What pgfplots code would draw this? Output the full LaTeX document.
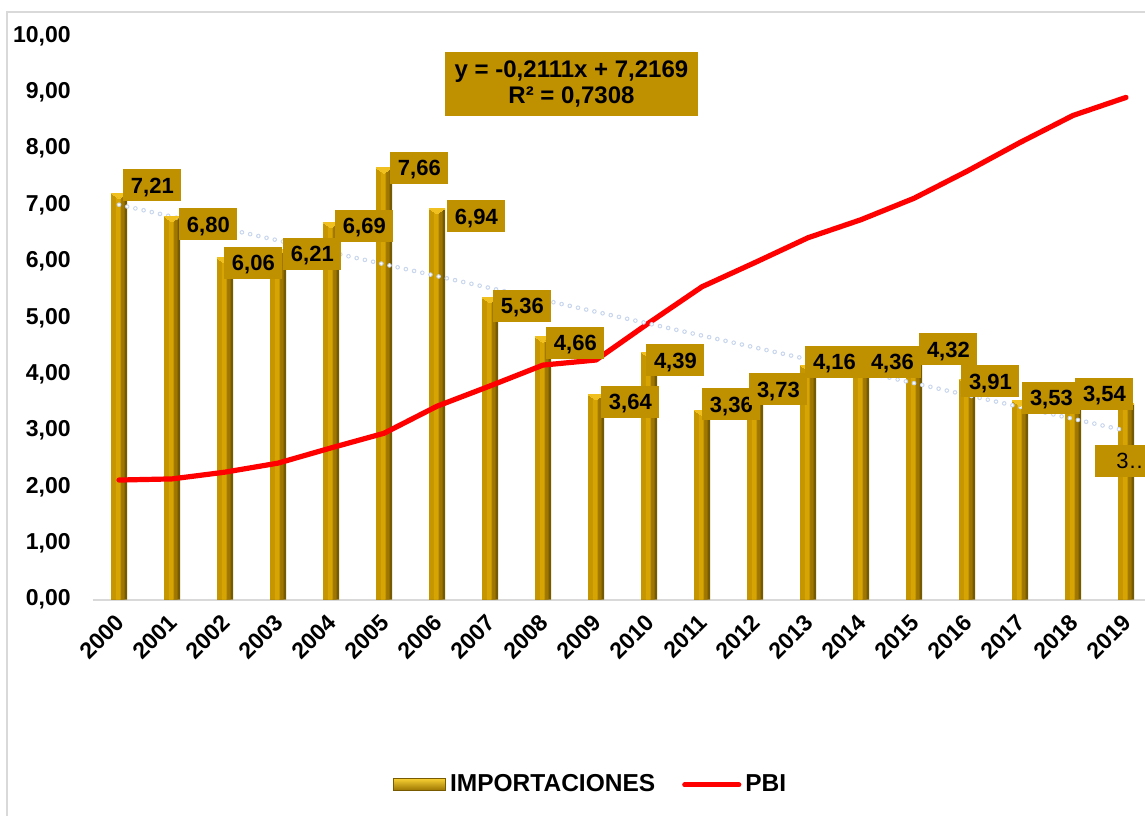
\documentclass[border=0pt]{standalone}
\usepackage{pgfplots}
\pgfplotsset{compat=1.18}
\usepackage{pgfplotstable}
\usepackage{fontspec}
\setmainfont{Liberation Sans}
\definecolor{labgold}{RGB}{191,144,0}
\definecolor{barA}{RGB}{118,90,0}
\definecolor{barB}{RGB}{158,118,0}
\definecolor{barC}{RGB}{198,150,0}
\definecolor{barD}{RGB}{214,165,4}
\definecolor{bartop}{RGB}{240,192,32}
\definecolor{frame}{RGB}{217,217,217}
\definecolor{trendb}{RGB}{200,214,237}
\newcommand{\px}[2]{({#1*0.5pt},{(815-#2)*0.5pt})}

\pgfplotstableread{
x y
0 7.21
1 6.80
2 6.06
3 6.21
4 6.69
5 7.66
6 6.94
7 5.36
8 4.66
9 3.64
10 4.39
11 3.36
12 3.73
13 4.16
14 4.36
15 4.32
16 3.91
17 3.53
18 3.54
19 3.47
}\imp

\pgfplotstableread{
x y
0 2.12
1 2.14
2 2.26
3 2.42
4 2.69
5 2.95
6 3.43
7 3.79
8 4.16
9 4.25
10 4.91
11 5.55
12 5.98
13 6.42
14 6.74
15 7.12
16 7.60
17 8.11
18 8.59
19 8.91
}\pbi

\begin{document}
\begin{tikzpicture}
\useasboundingbox (0,0) rectangle (572.5pt,407.5pt);
\fill[white] (0,0) rectangle (572.5pt,407.5pt);
\draw[frame, line width=0.6pt] \px{7}{12} rectangle \px{1170}{840};
\begin{axis}[
  at={(46.25pt,107.75pt)}, anchor=south west,
  scale only axis, width=530pt, height=281.75pt,
  xmin=-0.5, xmax=19.5, ymin=0, ymax=10,
  clip=false,
  axis x line*=bottom, axis y line*=left,
  x axis line style={draw=frame, line width=1pt},
  y axis line style={draw=none},
  major tick length=0pt, tick style={draw=none},
  xtick={0,...,19},
  xticklabels={2000,2001,2002,2003,2004,2005,2006,2007,2008,2009,2010,2011,2012,2013,2014,2015,2016,2017,2018,2019},
  xticklabel style={xshift=0.5pt, yshift=-9.5pt, font=\bfseries\fontsize{11.5}{13}\selectfont, rotate=45, anchor=east, inner sep=0pt},
  ytick={0,1,...,10},
  yticklabel style={font=\bfseries\fontsize{11.5}{13}\selectfont, inner sep=0pt, xshift=-10.75pt},
  /pgf/number format/.cd, fixed, fixed zerofill, precision=2, use comma, assume math mode=true,
  /pgfplots/.cd,
  legend style={at={(0.471,-0.329)}, anchor=center, draw=none, fill=none,
    font=\bfseries\fontsize{12.25}{14}\selectfont, legend columns=2,
    /tikz/every even column/.append style={column sep=11.5pt},
    nodes={inner xsep=2pt}},
]
% bars (layered for a cylinder-like shading)
\addplot[ybar, bar width=8pt, draw=none, fill=barA,
  legend image code/.code={\shade[top color={rgb,255:red,245;green,205;blue,50}, bottom color={rgb,255:red,150;green,112;blue,0}, draw={rgb,255:red,120;green,90;blue,0}, line width=0.4pt] (0pt,-3pt) rectangle (26pt,3pt);}]
  table[x=x, y=y] {\imp};
\addlegendentry{IMPORTACIONES}
\addplot[forget plot, ybar, bar width=6.8pt, bar shift=-0.6pt, draw=none, fill=barB] table[x=x, y=y] {\imp};
\addplot[forget plot, ybar, bar width=5pt, bar shift=-1.5pt, draw=none, fill=barC] table[x=x, y=y] {\imp};
\addplot[forget plot, ybar, bar width=2pt, bar shift=-0.6pt, draw=none, fill=barD] table[x=x, y=y] {\imp};
\addplot[forget plot, color=bartop, only marks, mark=triangle*, mark size=4.6pt, yshift=-0.9pt,
  mark options={rotate=180, yscale=0.4, fill=bartop, draw=bartop, line width=0pt}] table[x=x, y=y] {\imp};

\addplot[forget plot, draw=none, mark=none,
  nodes near coords, point meta=explicit symbolic,
  visualization depends on={value \thisrow{xs}\as\xs},
  visualization depends on={value \thisrow{ys}\as\ys},
  every node near coord/.append style={anchor=west, fill=labgold, text=black,
    font=\bfseries\fontsize{11}{13}\selectfont, inner sep=0pt,
    minimum width=29pt, minimum height=16pt, text height=9.4pt, text depth=1.5pt,
    xshift=\xs pt, yshift=\ys pt}]
  table[x=x, y=y, meta=lab] {
x y xs ys lab
0 7.21 2 4 7,21
1 6.80 3.5 -4 6,80
2 6.06 -0.5 -2.5 6,06
3 6.21 2.5 -2 6,21
4 6.69 2 -1.5 6,69
5 7.66 3 0 7,66
6 6.94 5 -4 6,94
7 5.36 1.5 -4.25 5,36
8 4.66 1.5 -2.8 4,66
9 3.64 2.5 -3.8 3,64
10 4.39 -1.5 -4 4,39
11 3.36 0 2.85 3,36
12 3.73 -3 0 3,73
13 4.16 -1.5 1.5 4,16
14 4.36 1 -3.85 4,36
15 4.32 2.5 3.3 4,32
16 3.91 -3 -1 3,91
17 3.53 1 1.3 3,53
18 3.54 1 3 3,54
};

\addplot[forget plot, draw=none, mark=none,
  nodes near coords={\mdseries\hspace*{9pt}3…},
  every node near coord/.append style={anchor=west, fill=labgold, text=black,
    font=\fontsize{11}{13}\selectfont, inner sep=0pt,
    minimum width=29pt, minimum height=16pt, text height=9.4pt, text depth=1.5pt,
    xshift=-15.5pt, yshift=-28.5pt}]
  coordinates {(19,3.47)};

\addplot[red, line width=2.6pt, line join=round, line cap=round, mark=none,
  legend image code/.code={\draw[red, line width=2.6pt, line cap=round] (0pt,0pt) -- (27pt,0pt);}]
  table[x=x, y=y] {\pbi};
\addlegendentry{PBI}

\addplot[forget plot, trendb, line width=2.3pt, line cap=round, dash pattern=on 0pt off 4.2pt, mark=none]
  coordinates {(0,7.0058) (19,2.9949)};
\addplot[forget plot, white, line width=1.3pt, line cap=round, dash pattern=on 0pt off 4.2pt, mark=none]
  coordinates {(0,7.0058) (19,2.9949)};
\end{axis}
\node[fill=labgold, minimum width=126.5pt, minimum height=32pt, inner sep=0pt, align=center,
  font=\bfseries\fontsize{12}{13}\selectfont] at \px{571.5}{84} {y = -0,2111x + 7,2169\\R² = 0,7308};
\end{tikzpicture}
\end{document}
